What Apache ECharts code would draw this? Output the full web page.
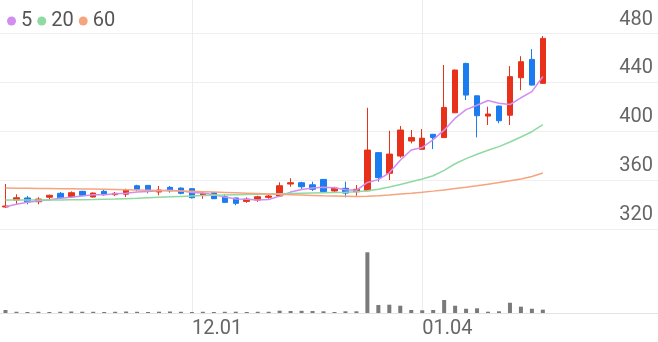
<!DOCTYPE html>
<html><head><meta charset="utf-8">
<script src="https://cdn.jsdelivr.net/npm/echarts@6/dist/echarts.min.js"></script>
<style>html,body{margin:0;padding:0;background:#fff}#c{width:658px;height:342px}</style>
</head><body><div id="c"></div>
<script>
const dates = ['11.06','11.09','11.10','11.11','11.12','11.13','11.16','11.17','11.18','11.19','11.20','11.23','11.24','11.25','11.26','11.27','11.30',
'12.01','12.02','12.03','12.04','12.07','12.08','12.09','12.10','12.11','12.14','12.15','12.16','12.17','12.18','12.21','12.22','12.23','12.24','12.28','12.29','12.30',
'01.04','01.05','01.06','01.07','01.08','01.11','01.12','01.13','01.14','01.15','01.18','01.19',
'01.20','01.21','01.22','01.25','01.26','01.27','01.28','01.29','02.01','02.02'];
const tickLabels = ['12.01','01.04'];
const opens  = [338.0,343.7,345.4,342.3,346.0,349.2,346.4,350.8,346.2,350.8,348.1,348.5,355.4,355.7,350.3,354.1,353.5,353.0,347.6,349.7,346.4,345.4,342.6,343.7,345.9,347.0,356.8,357.9,356.2,360.6,351.1,353.3,350.5,351.3,382.5,365.6,379.7,392.0,385.2,397.5,394.8,415.1,455.5,429.0,412.4,420.6,413.1,443.8,458.8,439.2];
const closes = [338.8,345.6,342.3,344.5,347.6,345.6,349.7,347.6,349.4,348.1,349.2,352.1,352.5,351.1,351.9,351.3,349.2,345.6,349.2,344.8,341.8,341.0,344.5,346.4,347.0,355.4,357.9,354.6,352.5,350.5,353.5,349.4,352.5,384.6,362.0,381.3,401.0,394.8,394.3,394.8,419.5,450.1,429.6,412.7,414.1,408.6,444.7,456.9,437.8,476.0];
const lows   = [337.2,340.2,340.2,340.2,343.0,345.1,345.4,347.2,345.8,347.2,347.0,346.2,351.0,349.2,347.6,349.7,348.4,345.0,344.8,344.5,341.5,339.4,341.5,342.3,344.8,346.4,354.6,352.7,351.1,350.3,350.3,345.9,347.2,351.0,358.7,360.1,378.3,390.1,385.0,385.4,394.5,415.0,425.5,395.0,405.1,406.5,405.1,433.6,437.5,439.0];
const highs  = [356.8,348.4,347.0,346.0,348.1,350.3,350.8,351.2,350.0,352.7,350.3,353.0,356.2,355.7,355.2,355.2,354.1,353.3,349.7,349.9,348.4,345.4,345.9,347.2,348.4,358.2,361.5,358.7,358.7,360.9,354.6,358.7,356.0,419.2,382.8,400.4,404.3,401.0,401.8,397.8,454.2,450.4,456.0,429.3,420.1,421.0,453.3,461.4,467.2,477.9];
const ma5  = [338.2,340.2,341.8,342.9,343.9,345.1,345.9,347.0,348.0,348.1,348.8,349.3,350.3,350.6,351.4,351.8,351.2,349.8,349.4,348.0,346.1,344.5,344.3,343.7,344.1,346.9,350.2,352.3,353.5,354.2,353.8,352.1,351.7,358.1,360.4,366.0,376.3,384.7,386.7,393.2,400.9,410.7,417.7,421.3,425.2,423.0,421.9,427.4,432.4,444.8];
const ma20 = [343.7,343.7,343.7,343.7,343.8,343.8,343.9,344.0,344.1,344.3,344.5,344.8,345.1,345.5,345.9,346.3,346.7,347.1,347.4,347.7,347.9,348.1,348.3,348.4,348.6,348.8,349.0,349.2,349.4,349.6,349.8,350.0,350.5,351.4,352.6,354.4,356.4,358.6,360.9,363.6,368.0,373.4,377.6,381.2,384.4,387.4,391.2,395.3,399.6,405.4];
const ma60 = [353.5,353.4,353.3,353.2,353.1,353.0,352.9,352.8,352.7,352.6,352.4,352.2,352.0,351.8,351.6,351.4,351.1,350.8,350.5,350.2,349.9,349.6,349.3,349.0,348.7,348.4,348.1,347.8,347.5,347.2,347.0,346.8,346.5,346.8,347.3,347.9,348.6,349.3,350.1,351.0,352.0,353.1,354.2,355.4,356.7,358.0,359.4,361.0,363.0,365.8];
const volumes = [4.4,1.8,1.5,1.8,1.5,1.8,2.2,1.9,1.8,1.5,1.8,2.2,1.8,1.5,1.9,2.2,1.8,1.5,1.8,1.5,1.8,1.9,1.5,1.8,1.8,3.4,2.9,3.2,2.9,2.5,1.5,2.5,2.5,89.3,11.8,12.2,10.7,4.4,4.0,4.4,19.1,10.7,6.3,6.9,1.9,2.5,15.1,9.3,6.3,4.9];
const priceMin = 320, priceMax = 480, priceStep = 40;

const candles = opens.map((o, i) => [o, closes[i], lows[i], highs[i]]);
const font = 'Roboto, sans-serif';
const UP = '#e8311a', DOWN = '#1b7cf0';
const chart = echarts.init(document.getElementById('c'));
chart.setOption({
  animation: false,
  textStyle: { fontFamily: font },
  legend: {
    data: ['5', '20', '60'], left: 2, top: 6, icon: 'circle', itemWidth: 9, itemHeight: 9, itemGap: 5,
    textStyle: { fontSize: 20, color: '#555', fontFamily: font }
  },
  grid: [
    { left: 0, right: 0, top: 33.5, height: 195.5 },
    { left: 0, right: 0, top: 245, height: 68 },
    { left: 0, right: 0, top: 0, height: 313 }
  ],
  xAxis: [
    { type: 'category', gridIndex: 0, data: dates, boundaryGap: true, axisLine: { show: false }, axisTick: { show: false }, axisLabel: { show: false }, splitLine: { show: false } },
    { type: 'category', gridIndex: 1, data: dates, boundaryGap: true, axisLine: { lineStyle: { color: '#e3e3e3' } }, axisTick: { show: false },
      axisLabel: { interval: (i, v) => tickLabels.includes(v), align: 'left', fontSize: 20, color: '#666', margin: 6, fontFamily: font } },
    { type: 'category', gridIndex: 2, data: dates, boundaryGap: true, show: false }
  ],
  yAxis: [
    { type: 'value', gridIndex: 0, position: 'right', min: priceMin, max: priceMax, interval: priceStep,
      axisLine: { show: false }, axisTick: { show: false },
      splitLine: { lineStyle: { color: '#efefef' } },
      axisLabel: { inside: true, margin: 5, fontSize: 20, color: '#666', verticalAlign: 'bottom', padding: [0, 0, 4, 0], fontFamily: font } },
    { type: 'value', gridIndex: 1, min: 0, max: 100, show: false },
    { type: 'value', gridIndex: 2, min: 0, max: 1, show: false }
  ],
  series: [
    { type: 'line', xAxisIndex: 2, yAxisIndex: 2, data: [], z: 0, silent: true,
      markLine: { silent: true, z: 0, symbol: ['none', 'none'], label: { show: false },
        lineStyle: { color: '#ececec', type: 'solid', width: 1 },
        data: tickLabels.map(t => ({ xAxis: t })) } },
    { type: 'candlestick', xAxisIndex: 0, yAxisIndex: 0, data: candles, barWidth: 6,
      itemStyle: { color: UP, color0: DOWN, borderColor: UP, borderColor0: DOWN, borderWidth: 1 } },
    { name: '5', type: 'line', xAxisIndex: 0, yAxisIndex: 0, data: ma5, symbol: 'none', lineStyle: { width: 1.5, color: '#d28df0' }, itemStyle: { color: '#d28df0' }, z: 3 },
    { name: '20', type: 'line', xAxisIndex: 0, yAxisIndex: 0, data: ma20, symbol: 'none', lineStyle: { width: 1.5, color: '#8fd9a2' }, itemStyle: { color: '#8fd9a2' }, z: 3 },
    { name: '60', type: 'line', xAxisIndex: 0, yAxisIndex: 0, data: ma60, symbol: 'none', lineStyle: { width: 1.5, color: '#f5a47f' }, itemStyle: { color: '#f5a47f' }, z: 3 },
    { type: 'bar', xAxisIndex: 1, yAxisIndex: 1, data: volumes, barWidth: 4, itemStyle: { color: '#7a7a7a' } }
  ]
});
</script></body></html>
